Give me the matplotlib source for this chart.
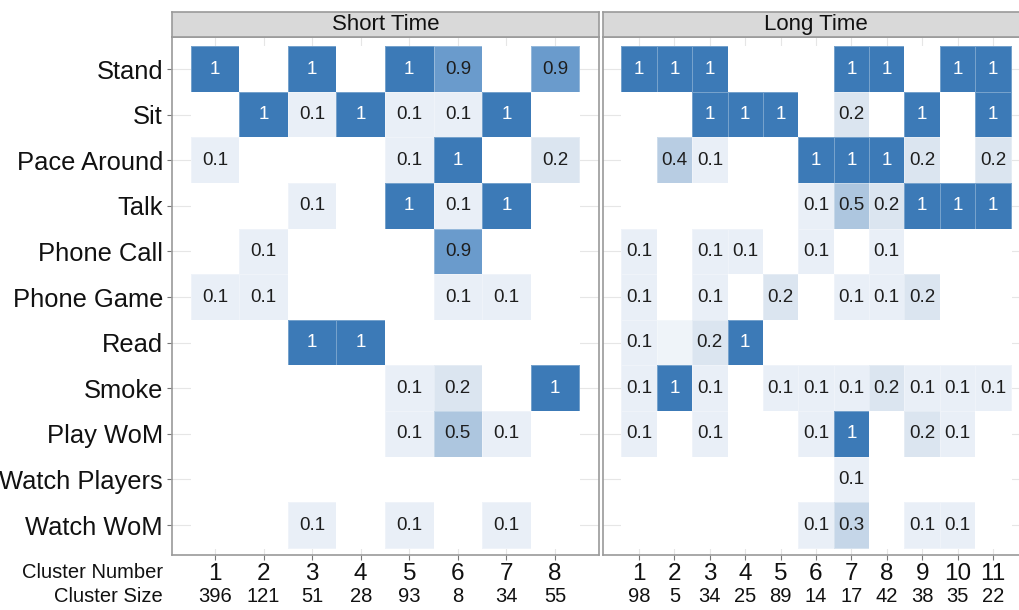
import numpy as np
import matplotlib
matplotlib.use("Agg")
import matplotlib.pyplot as plt
from matplotlib.colors import LinearSegmentedColormap

plt.rcParams['font.family'] = ['Liberation Sans', 'DejaVu Sans']

activities = ["Stand", "Sit", "Pace Around", "Talk", "Phone Call", "Phone Game",
              "Read", "Smoke", "Play WoM", "Watch Players", "Watch WoM"]

short_clusters = ["1", "2", "3", "4", "5", "6", "7", "8"]
short_sizes = ["396", "121", "51", "28", "93", "8", "34", "55"]
long_clusters = ["1", "2", "3", "4", "5", "6", "7", "8", "9", "10", "11"]
long_sizes = ["98", "5", "34", "25", "89", "14", "17", "42", "38", "35", "22"]

# share of each cluster doing each activity (0 = not observed)
short_time = [
    [1, 0, 1, 0, 1, 0.9, 0, 0.9],
    [0, 1, 0.1, 1, 0.1, 0.1, 1, 0],
    [0.1, 0, 0, 0, 0.1, 1, 0, 0.2],
    [0, 0, 0.1, 0, 1, 0.1, 1, 0],
    [0, 0.1, 0, 0, 0, 0.9, 0, 0],
    [0.1, 0.1, 0, 0, 0, 0.1, 0.1, 0],
    [0, 0, 1, 1, 0, 0, 0, 0],
    [0, 0, 0, 0, 0.1, 0.2, 0, 1],
    [0, 0, 0, 0, 0.1, 0.5, 0.1, 0],
    [0, 0, 0, 0, 0, 0, 0, 0],
    [0, 0, 0.1, 0, 0.1, 0, 0.1, 0],
]
long_time = [
    [1, 1, 1, 0, 0, 0, 1, 1, 0, 1, 1],
    [0, 0, 1, 1, 1, 0, 0.2, 0, 1, 0, 1],
    [0, 0.4, 0.1, 0, 0, 1, 1, 1, 0.2, 0, 0.2],
    [0, 0, 0, 0, 0, 0.1, 0.5, 0.2, 1, 1, 1],
    [0.1, 0, 0.1, 0.1, 0, 0.1, 0, 0.1, 0, 0, 0],
    [0.1, 0, 0.1, 0, 0.2, 0, 0.1, 0.1, 0.2, 0, 0],
    [0.1, 0.05, 0.2, 1, 0, 0, 0, 0, 0, 0, 0],
    [0.1, 1, 0.1, 0, 0.1, 0.1, 0.1, 0.2, 0.1, 0.1, 0.1],
    [0.1, 0, 0.1, 0, 0, 0.1, 1, 0, 0.2, 0.1, 0],
    [0, 0, 0, 0, 0, 0, 0.1, 0, 0, 0, 0],
    [0, 0, 0, 0, 0, 0.1, 0.3, 0, 0.1, 0.1, 0],
]

cmap = LinearSegmentedColormap.from_list("blues_tile", [
    (0.0, "#ffffff"), (0.05, "#eef3f9"), (0.1, "#e9eff7"), (0.2, "#dbe5f0"),
    (0.3, "#c5d6e8"), (0.4, "#b8cde3"), (0.5, "#adc6df"), (0.9, "#6b9ccc"),
    (1.0, "#3c7ab7")])

W, H = 1019, 610
fig = plt.figure(figsize=(W / 100, H / 100), dpi=100)


def px_axes(x0, x1, y0, y1):
    return fig.add_axes([x0 / W, 1 - y1 / H, (x1 - x0) / W, (y1 - y0) / H])


border = "#9a9a9a"
grid_c = "#e6e6e6"
ink = "#111111"


def panel(x0, x1, xlim, values, clusters, sizes, title, show_y):
    ax = px_axes(x0, x1, 37, 555)
    v = np.array(values, dtype=float)
    nr, nc = v.shape
    xs = np.arange(1, nc + 1)
    ys = np.arange(nr)
    for x in xs:
        ax.axvline(x, color=grid_c, lw=0.8, zorder=0)
    for y in ys:
        ax.axhline(y, color=grid_c, lw=0.8, zorder=0)
    xe = np.arange(0.5, nc + 1.0)
    ye = np.arange(-0.5, nr)
    ax.pcolormesh(xe, ye, v, cmap=cmap, vmin=0, vmax=1,
                  edgecolors=(1, 1, 1, 0.3), linewidth=0.6, zorder=1)
    for r in range(nr):
        for c in range(nc):
            val = v[r, c]
            if val >= 0.1:
                txt = f"{val:g}"
                col = "white" if val >= 0.95 else "#1e1e1e"
                ax.text(c + 1, r, txt, ha="center", va="center",
                        fontsize=13.5, color=col, zorder=3)
    ax.set_xlim(*xlim)
    ax.set_ylim(10 + 30 / 45.6, -32 / 45.6)
    ax.set_xticks(xs)
    ax.set_xticklabels(clusters, fontsize=17.5, color=ink)
    ax.tick_params(axis="x", length=3.5, width=0.8, color="#777777", pad=2)
    if show_y:
        ax.set_yticks(ys)
        ax.set_yticklabels(activities, fontsize=18.4, color=ink)
        ax.tick_params(axis="y", length=3.5, width=0.8, color="#777777", pad=3)
    else:
        ax.set_yticks([])
    for s in ax.spines.values():
        s.set_color(border)
        s.set_linewidth(1.2)
    for x, sz in zip(xs, sizes):
        ax.text(x, (555 - 597) / 518, sz, transform=ax.get_xaxis_transform(),
                ha="center", va="center", fontsize=14.5, color=ink)
    st = px_axes(x0, x1, 12, 37)
    st.set_facecolor("#d9d9d9")
    st.set_xticks([])
    st.set_yticks([])
    for s in st.spines.values():
        s.set_color(border)
        s.set_linewidth(1.2)
    st.text(0.5, 0.5, title, transform=st.transAxes, ha="center", va="center",
            fontsize=16, color=ink)
    return ax


panel(172, 599, (0.115, 8.906), short_time, short_clusters, short_sizes,
      "Short Time", True)
panel(603, 1029, (-0.02, 12.02), long_time, long_clusters, long_sizes,
      "Long Time", False)

fig.text(163 / W, 1 - 573 / H, "Cluster Number", ha="right", va="center",
         fontsize=14.5, color=ink)
fig.text(163 / W, 1 - 597 / H, "Cluster Size", ha="right", va="center",
         fontsize=14.5, color=ink)

fig.savefig("out.png", dpi=100)
